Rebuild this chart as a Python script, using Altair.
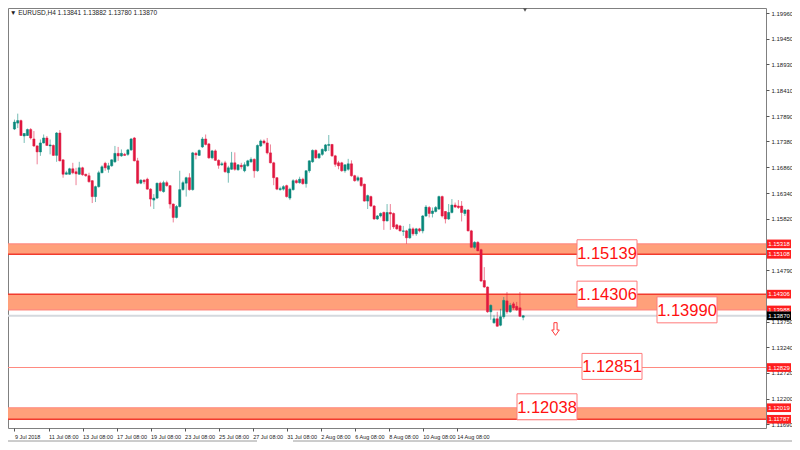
import json
import altair as alt
import pandas as pd

# ---------------- data ----------------
header = "\u25BC EURUSD,H4  1.13841 1.13882 1.13780 1.13870"

opens = [1.1763, 1.1775, 1.1780, 1.1749, 1.1750, 1.1762, 1.1743, 1.1729, 1.1717, 1.1735,
         1.1745, 1.1729, 1.1730, 1.1710, 1.1755, 1.1701, 1.1672, 1.1672, 1.1683, 1.1677,
         1.1672, 1.1685, 1.1672, 1.1669, 1.1659, 1.1627, 1.1647, 1.1675, 1.1694, 1.1682,
         1.1689, 1.1697, 1.1714, 1.1709, 1.1712, 1.1712, 1.1721, 1.1745, 1.1699, 1.1654,
         1.1660, 1.1662, 1.1642, 1.1620, 1.1624, 1.1654, 1.1637, 1.1655, 1.1649, 1.1612,
         1.1585, 1.1607, 1.1641, 1.1654, 1.1665, 1.1641, 1.1714, 1.1710, 1.1727, 1.1743,
         1.1733, 1.1705, 1.1719, 1.1700, 1.1691, 1.1695, 1.1675, 1.1682, 1.1695, 1.1681,
         1.1690, 1.1679, 1.1689, 1.1697, 1.1702, 1.1679, 1.1729, 1.1739, 1.1735, 1.1715,
         1.1695, 1.1665, 1.1641, 1.1642, 1.1649, 1.1624, 1.1641, 1.1659, 1.1655, 1.1662,
         1.1653, 1.1679, 1.1697, 1.1720, 1.1705, 1.1712, 1.1719, 1.1730, 1.1732, 1.1709,
         1.1695, 1.1695, 1.1679, 1.1682, 1.1693, 1.1669, 1.1660, 1.1665, 1.1652, 1.1618,
         1.1627, 1.1608, 1.1582, 1.1588, 1.1595, 1.1578, 1.1595, 1.1593, 1.1570, 1.1568,
         1.1557, 1.1558, 1.1544, 1.1562, 1.1552, 1.1562, 1.1558, 1.1588, 1.1605, 1.1593,
         1.1597, 1.1602, 1.1627, 1.1597, 1.1582, 1.1595, 1.1610, 1.1608, 1.1608, 1.1593,
         1.1600, 1.1558, 1.1525, 1.1535, 1.1520, 1.1458, 1.1445, 1.1395, 1.1373, 1.1381,
         1.1368, 1.1385, 1.1417, 1.1395, 1.1411, 1.1406, 1.1403, 1.13841]
highs = [1.1782, 1.1794, 1.1782, 1.1755, 1.1764, 1.1765, 1.1759, 1.1730, 1.1742, 1.1752,
         1.1749, 1.1742, 1.1732, 1.1757, 1.1761, 1.1702, 1.1679, 1.1685, 1.1695, 1.1685,
         1.1697, 1.1687, 1.1673, 1.1675, 1.1660, 1.1649, 1.1679, 1.1690, 1.1697, 1.1695,
         1.1702, 1.1729, 1.1727, 1.1722, 1.1715, 1.1723, 1.1745, 1.1747, 1.1705, 1.1662,
         1.1662, 1.1665, 1.1644, 1.1632, 1.1655, 1.1657, 1.1659, 1.1659, 1.1650, 1.1613,
         1.1610, 1.1679, 1.1659, 1.1667, 1.1674, 1.1717, 1.1717, 1.1722, 1.1747, 1.1752,
         1.1735, 1.1721, 1.1722, 1.1702, 1.1697, 1.1699, 1.1689, 1.1717, 1.1716, 1.1692,
         1.1695, 1.1696, 1.1701, 1.1706, 1.1704, 1.1732, 1.1742, 1.1742, 1.1745, 1.1732,
         1.1697, 1.1666, 1.1647, 1.1650, 1.1651, 1.1645, 1.1662, 1.1662, 1.1667, 1.1665,
         1.1680, 1.1700, 1.1722, 1.1722, 1.1715, 1.1724, 1.1733, 1.1751, 1.1733, 1.1711,
         1.1699, 1.1697, 1.1692, 1.1703, 1.1700, 1.1671, 1.1669, 1.1666, 1.1653, 1.1631,
         1.1629, 1.1610, 1.1590, 1.1595, 1.1597, 1.1612, 1.1612, 1.1595, 1.1572, 1.1570,
         1.1568, 1.1560, 1.1572, 1.1565, 1.1564, 1.1564, 1.1590, 1.1610, 1.1608, 1.1605,
         1.1608, 1.1629, 1.1629, 1.1598, 1.1612, 1.1622, 1.1615, 1.1620, 1.1618, 1.1602,
         1.1602, 1.1560, 1.1537, 1.1537, 1.1522, 1.1485, 1.1446, 1.1410, 1.1388, 1.1395,
         1.1401, 1.1425, 1.1435, 1.1413, 1.1415, 1.1415, 1.1435, 1.13882]
lows = [1.1761, 1.1765, 1.1749, 1.1735, 1.1749, 1.1742, 1.1727, 1.1692, 1.1709, 1.1734,
        1.1729, 1.1712, 1.1709, 1.1697, 1.1698, 1.1665, 1.1671, 1.1671, 1.1672, 1.1650,
        1.1671, 1.1669, 1.1667, 1.1655, 1.1614, 1.1616, 1.1645, 1.1674, 1.1679, 1.1675,
        1.1687, 1.1695, 1.1699, 1.1707, 1.1709, 1.1709, 1.1719, 1.1698, 1.1652, 1.1652,
        1.1652, 1.1641, 1.1607, 1.1602, 1.1622, 1.1637, 1.1635, 1.1647, 1.1603, 1.1575,
        1.1583, 1.1605, 1.1639, 1.1627, 1.1639, 1.1639, 1.1702, 1.1709, 1.1725, 1.1730,
        1.1703, 1.1702, 1.1699, 1.1683, 1.1689, 1.1675, 1.1655, 1.1681, 1.1679, 1.1679,
        1.1682, 1.1676, 1.1687, 1.1695, 1.1665, 1.1677, 1.1727, 1.1732, 1.1712, 1.1694,
        1.1650, 1.1640, 1.1639, 1.1639, 1.1625, 1.1620, 1.1639, 1.1653, 1.1653, 1.1651,
        1.1645, 1.1675, 1.1695, 1.1703, 1.1703, 1.1709, 1.1717, 1.1719, 1.1707, 1.1687,
        1.1682, 1.1677, 1.1675, 1.1679, 1.1667, 1.1657, 1.1657, 1.1647, 1.1617, 1.1602,
        1.1606, 1.1580, 1.1580, 1.1585, 1.1560, 1.1577, 1.1560, 1.1562, 1.1560, 1.1557,
        1.1548, 1.1532, 1.1542, 1.1548, 1.1548, 1.1555, 1.1553, 1.1586, 1.1585, 1.1585,
        1.1595, 1.1600, 1.1585, 1.1573, 1.1580, 1.1593, 1.1604, 1.1602, 1.1577, 1.1588,
        1.1557, 1.1524, 1.1522, 1.1517, 1.1455, 1.1443, 1.1393, 1.1379, 1.1371, 1.1365,
        1.1366, 1.1381, 1.1391, 1.1393, 1.1399, 1.1397, 1.1385, 1.13780]
closes = [1.1777, 1.1780, 1.1750, 1.1754, 1.1762, 1.1745, 1.1729, 1.1717, 1.1735, 1.1745,
          1.1730, 1.1731, 1.1710, 1.1755, 1.1699, 1.1672, 1.1675, 1.1683, 1.1675, 1.1673,
          1.1685, 1.1671, 1.1669, 1.1657, 1.1627, 1.1647, 1.1675, 1.1687, 1.1685, 1.1689,
          1.1701, 1.1714, 1.1709, 1.1714, 1.1710, 1.1721, 1.1743, 1.1699, 1.1654, 1.1660,
          1.1657, 1.1642, 1.1622, 1.1624, 1.1654, 1.1639, 1.1655, 1.1649, 1.1612, 1.1585,
          1.1607, 1.1641, 1.1655, 1.1665, 1.1641, 1.1715, 1.1711, 1.1720, 1.1743, 1.1732,
          1.1705, 1.1719, 1.1700, 1.1690, 1.1693, 1.1677, 1.1685, 1.1695, 1.1682, 1.1691,
          1.1687, 1.1691, 1.1699, 1.1702, 1.1679, 1.1730, 1.1739, 1.1735, 1.1715, 1.1695,
          1.1665, 1.1642, 1.1643, 1.1647, 1.1627, 1.1642, 1.1659, 1.1655, 1.1662, 1.1653,
          1.1679, 1.1699, 1.1720, 1.1705, 1.1713, 1.1722, 1.1731, 1.1732, 1.1709, 1.1692,
          1.1689, 1.1679, 1.1691, 1.1693, 1.1669, 1.1659, 1.1665, 1.1649, 1.1618, 1.1629,
          1.1608, 1.1582, 1.1588, 1.1593, 1.1578, 1.1595, 1.1592, 1.1566, 1.1562, 1.1558,
          1.1558, 1.1544, 1.1562, 1.1552, 1.1562, 1.1558, 1.1588, 1.1606, 1.1593, 1.1598,
          1.1605, 1.1627, 1.1588, 1.1582, 1.1595, 1.1610, 1.1606, 1.1605, 1.1595, 1.1600,
          1.1558, 1.1525, 1.1535, 1.1518, 1.1457, 1.1445, 1.1395, 1.1408, 1.1381, 1.1366,
          1.1385, 1.1418, 1.1395, 1.1408, 1.1403, 1.1399, 1.1386, 1.13870]

time_labels = ["9 Jul 2018", "11 Jul 08:00", "13 Jul 08:00", "17 Jul 08:00", "19 Jul 08:00",
               "23 Jul 08:00", "25 Jul 08:00", "27 Jul 08:00", "31 Jul 08:00", "2 Aug 08:00",
               "6 Aug 08:00", "8 Aug 08:00", "10 Aug 08:00", "14 Aug 08:00"]
time_label_bars = [1, 11.5, 22, 32.5, 43, 53.5, 64, 74.5, 85, 95.5, 106, 116.5, 127, 137.5]

price_ticks = [1.19960, 1.19450, 1.18930, 1.18410, 1.17890, 1.17380, 1.16860, 1.16340,
               1.15820, 1.14790, 1.13750, 1.13240, 1.12720, 1.12200, 1.11690]

band_tops = [1.15318, 1.14306, 1.12019]
band_bottoms = [1.15108, 1.13988, 1.11787]
strong_lines = [1.15108, 1.14306, 1.11787]
pale_lines = [1.15318, 1.13988, 1.12019, 1.12829]
bid_price = 1.13870

level_labels = ["1.15139", "1.14306", "1.13990", "1.12851", "1.12038"]
level_prices = [1.15139, 1.14306, 1.13990, 1.12851, 1.12038]

axis_box_prices = [1.15318, 1.15108, 1.14306, 1.13988, 1.12829, 1.12019, 1.11787]
arrow_price = 1.13604

# ---------------- layout / style ----------------
W, H = 758, 420
PAD_R, PAD_B = 26, 14
X_DOMAIN = [0.543, 231.4]
Y_DOMAIN = [1.11611, 1.20067]
LEVEL_X = [599, 599, 679, 604, 539]
BOX_X = W + 13
FONT = "'Liberation Sans', sans-serif"
GREEN, RED = "#08877A", "#E0173F"
SALMON = "#FFA07A"

candles = pd.DataFrame({
    "i": list(range(1, len(opens) + 1)),
    "open": opens, "high": highs, "low": lows, "close": closes,
})

yscale = alt.Scale(domain=Y_DOMAIN, nice=False, zero=False)
xscale = alt.Scale(domain=X_DOMAIN, nice=False, zero=False)
label_expr = f"{json.dumps(time_labels)}[indexof({json.dumps(time_label_bars)}, datum.value)]"
yaxis = alt.Axis(orient="right", values=price_ticks, format=".5f", title=None, grid=False,
                 domain=False, tickSize=3, tickColor="#555", labelPadding=2,
                 labelFontSize=6, labelFont=FONT, labelColor="#222", labelOverlap=False)
xaxis = alt.Axis(orient="bottom", values=time_label_bars, labelExpr=label_expr, title=None,
                 grid=False, domain=False, tickSize=3, tickColor="#555", labelAlign="left",
                 labelBaseline="top", labelPadding=3, labelFontSize=5.5,
                 labelFont=FONT, labelColor="#222", labelOverlap=False)


def Y(field, **kw):
    return alt.Y(f"{field}:Q", scale=yscale, axis=yaxis, **kw)


def X(field):
    return alt.X(f"{field}:Q", scale=xscale, axis=xaxis)


dir_color = alt.Color("dir:N", scale=alt.Scale(domain=["up", "down"], range=[GREEN, RED]), legend=None)
dir_stroke = alt.Stroke("dir:N", scale=alt.Scale(domain=["up", "down"], range=[GREEN, RED]), legend=None)

base = alt.Chart(candles).transform_calculate(dir="datum.close >= datum.open ? 'up' : 'down'")
wicks = base.mark_rule(strokeWidth=1, opacity=0.55).encode(x=X("i"), y=Y("low"), y2="high:Q", color=dir_color)
bodies = base.mark_bar(size=2.2, strokeWidth=0.5).encode(
    x=X("i"), y=Y("open"), y2="close:Q", color=dir_color, stroke=dir_stroke)

bands_df = pd.DataFrame({"top": band_tops, "bottom": band_bottoms})
bands = alt.Chart(bands_df).mark_rect(color=SALMON).encode(
    y=Y("top"), y2="bottom:Q", x=alt.value(0), x2=alt.value(W))

pale = alt.Chart(pd.DataFrame({"p": pale_lines})).mark_rule(color="#FF8A80", strokeWidth=1.2).encode(y=Y("p"))
strong = alt.Chart(pd.DataFrame({"p": strong_lines})).mark_rule(color="#F23B2E", strokeWidth=1.5).encode(y=Y("p"))
bid = alt.Chart(pd.DataFrame({"p": [bid_price]})).mark_rule(color="#D5D9DE", strokeWidth=2).encode(y=Y("p"))

layers = [bands, pale, strong, bid, wicks, bodies]

BIG_BOX = "M-1,-0.4333H1V0.4333H-1Z"
for lbl, pr, xx in zip(level_labels, level_prices, LEVEL_X):
    d = pd.DataFrame({"p": [pr], "t": [lbl]})
    layers.append(alt.Chart(d).mark_point(shape=BIG_BOX, size=3600, fill="white", fillOpacity=1,
                                          stroke="#FF7A7A", strokeWidth=1, opacity=1)
                  .encode(x=alt.value(xx), y=Y("p")))
    layers.append(alt.Chart(d).mark_text(font=FONT, fontSize=16.5, color="#FF1010", align="center",
                                         baseline="middle", dy=1)
                  .encode(x=alt.value(xx), y=Y("p"), text="t:N"))

ARROW = "M-0.25,-1H0.25V0.15H0.6L0,1L-0.6,0.15H-0.25Z"
layers.append(alt.Chart(pd.DataFrame({"p": [arrow_price]})).mark_point(
    shape=ARROW, size=161, fill="white", fillOpacity=1, stroke="#FF3B3B", strokeWidth=1, opacity=1)
    .encode(x=alt.value(547.5), y=Y("p")))

SMALL_BOX = "M-1,-0.36H1V0.36H-1Z"
ab = pd.DataFrame({"p": axis_box_prices, "t": [f"{v:.5f}" for v in axis_box_prices]})
layers.append(alt.Chart(ab).mark_point(shape=SMALL_BOX, size=576, filled=True, color="#FF1E1E", opacity=1)
              .encode(x=alt.value(BOX_X), y=Y("p")))
layers.append(alt.Chart(ab).mark_text(font=FONT, fontSize=6, color="white", align="center", baseline="middle")
              .encode(x=alt.value(BOX_X), y=Y("p"), text="t:N"))
bb = pd.DataFrame({"p": [bid_price], "t": [f"{bid_price:.5f}"]})
layers.append(alt.Chart(bb).mark_point(shape=SMALL_BOX, size=576, filled=True, color="#000000", opacity=1)
              .encode(x=alt.value(BOX_X), y=Y("p")))
layers.append(alt.Chart(bb).mark_text(font=FONT, fontSize=6, color="white", align="center", baseline="middle")
              .encode(x=alt.value(BOX_X), y=Y("p"), text="t:N"))

layers.append(alt.Chart(pd.DataFrame({"t": [header]})).mark_text(
    font=FONT, fontSize=6.5, color="#222", align="left", baseline="middle")
    .encode(x=alt.value(2), y=alt.value(5), text="t:N"))
layers.append(alt.Chart(pd.DataFrame({"t": [0]})).mark_point(
    shape="triangle-down", size=16, filled=True, color="#555", opacity=1)
    .encode(x=alt.value(517), y=alt.value(2)))
layers.append(alt.Chart(pd.DataFrame({"t": [0]})).mark_rule(color="#9A9A9A", strokeWidth=1)
              .encode(x=alt.value(0), x2=alt.value(249), y=alt.value(H + 13)))
layers.append(alt.Chart(pd.DataFrame({"t": [0]})).mark_rule(color="#9A9A9A", strokeWidth=1)
              .encode(x=alt.value(285), x2=alt.value(W + PAD_R), y=alt.value(H + 13)))

chart = alt.layer(*layers).properties(
    width=W, height=H, background="white",
    autosize=alt.AutoSizeParams(type="none"),
    padding={"left": 0, "top": 0, "right": PAD_R, "bottom": PAD_B},
).configure_view(stroke="#808080", strokeWidth=1)

chart.save("out.html", embed_options={"renderer": "svg", "actions": False})
